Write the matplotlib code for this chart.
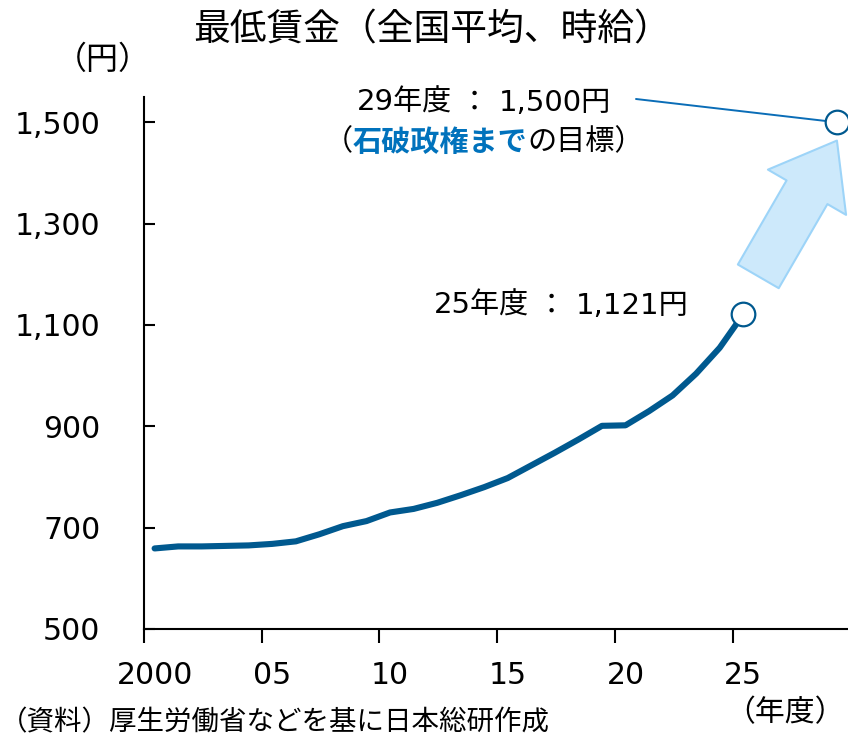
import matplotlib
matplotlib.use("Agg")
import matplotlib.pyplot as plt
import numpy as np

# DejaVu for the Verdana-like digits, Noto for the Japanese text
plt.rcParams["font.family"] = ["DejaVu Sans", "Noto Sans CJK JP"]
JP = ["Noto Sans CJK JP", "DejaVu Sans"]
LAT = ["DejaVu Sans", "Noto Sans CJK JP"]

# -----------------------------
# data
# -----------------------------
years = np.arange(2000, 2026)
wage = [659, 663, 663, 664, 665, 668, 673, 687, 703, 713,
        730, 737, 749, 764, 780, 798, 823, 848, 874, 901,
        902, 930, 961, 1004, 1055, 1121]
target_year = 2029
target_wage = 1500

yticks = [500, 700, 900, 1100, 1300, 1500]
xtick_years = [2000, 2005, 2010, 2015, 2020, 2025]
xtick_labels = ["2000", "05", "10", "15", "20", "25"]

LINE = "#00598f"
LEADER = "#0a6db7"
BLUE_TXT = "#0072bc"

W, H = 848, 737
fig = plt.figure(figsize=(W / 100, H / 100), dpi=100)


def fx(px):
    return px / W


def fy(py):
    return 1 - py / H


def rich_text(cx, cy, parts, size):
    # parts: (text, colour, weight, family) or a number = pixel gap
    items = []
    for p in parts:
        if isinstance(p, (int, float)):
            items.append(p)
        else:
            t, c, w, f = p
            items.append(fig.text(0, fy(cy), t, color=c, fontweight=w,
                                  family=f, fontsize=size,
                                  ha="left", va="center"))
    fig.canvas.draw()
    r = fig.canvas.get_renderer()
    widths = [i if isinstance(i, (int, float))
              else i.get_window_extent(r).width for i in items]
    x = cx - sum(widths) / 2
    for i, wd in zip(items, widths):
        if not isinstance(i, (int, float)):
            i.set_x(fx(x))
        x += wd


ax = fig.add_axes([fx(144), fy(629), 1 - fx(144), fy(97) - fy(629)])
ax.set_xlim(1999.55, 2029.45)
ax.set_ylim(500, 1550)

ax.plot(years, wage, color=LINE, lw=4.4, solid_capstyle="round", zorder=3)
ax.plot(years[-1], wage[-1], "o", ms=17, mfc="white", mec=LINE, mew=1.6,
        zorder=5, clip_on=False)
ax.plot(target_year, target_wage, "o", ms=17, mfc="white", mec=LINE,
        mew=1.6, zorder=5, clip_on=False)

# spines / ticks
for s in ["top", "right"]:
    ax.spines[s].set_visible(False)
for s in ["left", "bottom"]:
    ax.spines[s].set_linewidth(1.5)

ax.set_yticks(yticks)
ax.set_yticklabels([f"{v:,}" for v in yticks], fontsize=21.5)
ax.tick_params(axis="y", direction="in", length=8, width=1.5, pad=31.5)

ax.set_xticks([y - 0.45 for y in xtick_years])
ax.set_xticklabels([""] * len(xtick_years))
ax.tick_params(axis="x", which="major", direction="out", length=10, width=1.5)
ax.set_xticks(xtick_years, minor=True)
ax.set_xticklabels(xtick_labels, minor=True, fontsize=21.5)
ax.tick_params(axis="x", which="minor", length=0, pad=23)

# big arrow towards target
ax.annotate(
    "",
    xy=(2028.98, 1464),
    xytext=(2025.64, 1196),
    arrowprops=dict(
        arrowstyle="simple,head_length=4.3,head_width=6.5,tail_width=3.4",
        mutation_scale=10,
        fc="#cde9fb",
        ec="#9dd4f8",
        lw=1.5,
        shrinkA=0,
        shrinkB=0,
    ),
    annotation_clip=False,
    zorder=2,
)

# leader line to target point
ax.annotate(
    "",
    xy=(target_year, target_wage),
    xytext=(fx(636), fy(99)),
    textcoords="figure fraction",
    arrowprops=dict(arrowstyle="-", color=LEADER, lw=1.4,
                    shrinkA=0, shrinkB=8.5),
    annotation_clip=False,
    zorder=4,
)

# texts
fig.text(fx(432), fy(30), "最低賃金（全国平均、時給）", fontsize=26.5,
         family=JP, ha="center", va="center")
fig.text(fx(103), fy(60), "（円）", fontsize=23, family=JP,
         ha="center", va="center")
fig.text(fx(785), fy(713), "（年度）", fontsize=21.5, family=JP,
         ha="center", va="center")
fig.text(fx(0), fy(736), "（資料）厚生労働省などを基に日本総研作成",
         fontsize=19.8, family=JP, ha="left", va="bottom")

rich_text(484, 103, [("29年度", "black", "normal", LAT), 8,
                     ("：", "black", "normal", JP), 10,
                     ("1,500円", "black", "normal", LAT)], 21)
rich_text(484, 142, [("（", "black", "normal", JP),
                     ("石破政権まで", BLUE_TXT, "bold", JP),
                     ("の目標）", "black", "normal", JP)], 21)
rich_text(561, 306, [("25年度", "black", "normal", LAT), 8,
                     ("：", "black", "normal", JP), 10,
                     ("1,121円", "black", "normal", LAT)], 21)

fig.savefig("out.png", dpi=100)
